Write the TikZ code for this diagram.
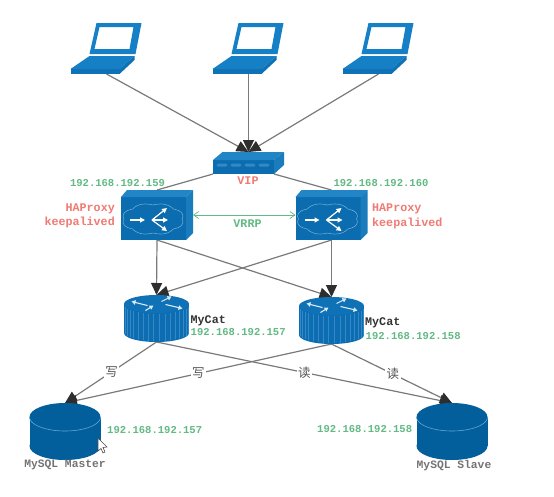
\documentclass[tikz,border=0pt]{standalone}
\usepackage{fontspec}
\setmonofont{Liberation Mono}
\newfontfamily\cjkfont{Noto Sans CJK SC}
\usetikzlibrary{arrows.meta}
\definecolor{lapblue}{HTML}{1580C6}
\definecolor{lapdark}{HTML}{0F72B4}
\definecolor{boxblue}{HTML}{0B6DB0}
\definecolor{boxtop}{HTML}{2185C6}
\definecolor{boxside}{HTML}{1A7CBC}
\definecolor{rtop}{HTML}{0F71B6}
\definecolor{rbody}{HTML}{0C6DB2}
\definecolor{rrib}{HTML}{3488C4}
\definecolor{dbblue}{HTML}{035F9C}
\definecolor{dbline}{HTML}{5FA6D4}
\definecolor{linegray}{HTML}{7A7A7A}
\definecolor{headc}{HTML}{2E2E2E}
\definecolor{ipgreen}{HTML}{62BA84}
\definecolor{redtxt}{HTML}{F07A74}
\definecolor{greytxt}{HTML}{555555}
\tikzset{
  box/.style={inner sep=0pt,outer sep=0pt,minimum width=#1},
  conn/.style={draw=linegray,line width=1.2pt},
  headed/.style={conn,-{Triangle[length=12pt,width=11pt,color=headc]}},
  vrrp/.style={draw=ipgreen,line width=.7pt,{Straight Barb[length=5pt,width=7pt]}-{Straight Barb[length=5pt,width=7pt]}},
  iptxt/.style={font=\ttfamily\bfseries\fontsize{10.55}{12}\selectfont,text=ipgreen,inner sep=0pt},
  redlab/.style={font=\ttfamily\bfseries\fontsize{11.7}{13}\selectfont,text=redtxt,inner sep=0pt},
  greenlab/.style={font=\ttfamily\bfseries\fontsize{11.7}{13}\selectfont,text=ipgreen,inner sep=0pt},
  darklab/.style={font=\ttfamily\bfseries\fontsize{11.7}{13}\selectfont,text=black!80,inner sep=0pt},
  dblab/.style={font=\ttfamily\bfseries\fontsize{11.3}{13}\selectfont,text=black!55,inner sep=0pt},
  zhlab/.style={font=\cjkfont\fontsize{12.5}{13}\selectfont,text=greytxt,fill=white,inner sep=1.5pt},
  laptopicon/.pic={
    \fill[lapblue,even odd rule] (-10,-51)--(35,-51)--(29,-20)--(-17,-20)--cycle
      (-7,-47)--(27,-47)--(23,-25)--(-12,-25)--cycle;
    \fill[lapblue] (-17,-18)--(28,-18)--(13,-5)--(-36,-5)--cycle;
    \fill[lapdark] (-36,-5)--(13,-5)--(13,0)--(-36,0)--cycle;
    \fill[lapdark] (13,-5)--(28,-18)--(28,-14)--(13,0)--cycle;
  },
  hubicon/.pic={
    \fill[boxblue] (-35.5,-3) rectangle (25.5,11);
    \fill[boxtop] (-35.5,-3)--(-26,-11)--(35.5,-11)--(25.5,-3)--cycle;
    \fill[boxside] (25.5,-3)--(35.5,-11)--(35.5,2)--(25.5,11)--cycle;
    \foreach \x in {-32,-18,-4,10}
      \fill[rrib,rounded corners=1.5pt] (\x,.5) rectangle (\x+11,3.5);
  },
  balancer/.pic={
    \fill[boxblue] (-36,-18) rectangle (29,25);
    \fill[boxtop] (-36,-18)--(-30,-25)--(36,-25)--(29,-18)--cycle;
    \fill[boxside] (29,-18)--(36,-25)--(36,18)--(29,25)--cycle;
    \draw[white!45!boxblue,line width=.5pt] plot[smooth cycle,domain=0:355,samples=72]
      ({-4+29*cos(\x)*(1+.07*abs(sin(4*\x)))},{4+14*sin(\x)*(1+.13*abs(sin(4*\x)))});
    \begin{scope}[draw=white,line width=1.2pt,-{Triangle[length=5pt,width=5pt,color=white]}]
      \draw (-27,5)--(-12,5);
      \draw (-5,5)--(10,-7);
      \draw (-5,5)--(11,5);
      \draw (-5,5)--(10,16);
    \end{scope}
  },
  routericon/.pic={
    \fill[rbody] (-32.5,-14.5) rectangle (32.5,14.5);
    \fill[rbody] (0,14.5) ellipse[x radius=32.5,y radius=9];
    \foreach \a in {15,25,...,165}
      \draw[rrib,line width=.5pt] ({32.5*cos(\a)},{-14.5+9*sin(\a)+1}) -- ({32.5*cos(\a)},{14.5+9*sin(\a)-1});
    \fill[rtop] (0,-14.5) ellipse[x radius=32.5,y radius=9];
    \begin{scope}[draw=white!85!rtop,line width=1.1pt,-{Triangle[length=4pt,width=4.5pt,color=white!85!rtop]}]
      \draw (-9,-13)--(-25,-17);
      \draw (-11,-8)--(-3,-13);
      \draw (5,-17)--(15,-22);
      \draw (9,-14)--(26,-10);
    \end{scope}
  },
  dbicon/.pic={
    \fill[dbblue] (-35.5,-14.5) rectangle (35.5,14.5);
    \fill[dbblue] (0,14.5) ellipse[x radius=35.5,y radius=14];
    \fill[dbblue] (0,-14.5) ellipse[x radius=35.5,y radius=14];
    \draw[dbline,line width=.6pt] plot[smooth,domain=0:180,samples=30]
      ({35.5*cos(\x)},{-14.5+14*sin(\x)});
  },
}
\begin{document}
\begin{tikzpicture}[x=1pt,y=-1pt]
\useasboundingbox[fill=white] (0,0) rectangle (554,496);
% devices (outlines)
\node[box=71pt,minimum height=51pt] (lapA) at (106.5,48.5) {};
\node[box=71pt,minimum height=51pt] (lapB) at (248.5,48.5) {};
\node[box=71pt,minimum height=51pt] (lapC) at (378.5,48.5) {};
\node[box=71pt,minimum height=22pt] (hub) at (248.5,163) {};
\node[box=72pt,minimum height=50pt] (haL) at (157,215) {};
\node[box=72pt,minimum height=50pt] (haR) at (331.5,215) {};
\node[box=65pt,minimum height=47pt] (rtA) at (156.5,318.5) {};
\node[box=65pt,minimum height=47pt] (rtB) at (331.5,320.5) {};
\node[box=71pt,minimum height=57pt] (dbM) at (65,431.5) {};
\node[box=71pt,minimum height=57pt] (dbS) at (452,431.5) {};
% connectors
\draw[headed] (lapA.south) -- (hub.north);
\draw[headed] (lapB.south) -- (hub.north);
\draw[headed] (lapC.south) -- (hub.north);
\draw[conn] (hub.south west) -- (haL.north);
\draw[conn] ([xshift=-10pt]hub.south east) -- (haR.north);
\draw[vrrp] (haL.east) -- (haR.west);
\draw[headed] (haL.south) -- (rtA.north);
\draw[headed] (haL.south) -- (rtB.north);
\draw[headed] (haR.south) -- (rtB.north);
\draw[headed] (haR.south) -- (rtA.north);
\draw[headed] (rtA.south) -- node[zhlab,pos=.49] (wA) {写} (dbM.north);
\draw[headed] (rtB.south) -- node[zhlab,pos=.5] (wB) {写} (dbM.north);
\draw[headed] (rtA.south) -- node[zhlab,pos=.5] (rA) {读} (dbS.north);
\draw[headed] (rtB.south) -- node[zhlab,pos=.51] (rB) {读} (dbS.north);
% icons
\pic at (lapA.south) {laptopicon};
\pic at (lapB.south) {laptopicon};
\pic at (lapC.south) {laptopicon};
\pic at (hub.center) {hubicon};
\pic at (haL.center) {balancer};
\pic at (haR.center) {balancer};
\pic at (rtA.center) {routericon};
\pic at (rtB.center) {routericon};
\pic at (dbM.center) {dbicon};
\pic at (dbS.center) {dbicon};
% texts
\node[iptxt] (ipL) at (117.5,183) {192.168.192.159};
\node[iptxt] (ipR) at (381,183) {192.168.192.160};
\node[redlab] (vip) at (248,181) {VIP};
\node[greenlab] (vr) at (247.5,224) {VRRP};
\node[redlab,anchor=east] (hL1) at (115,209) {HAProxy};
\node[redlab,anchor=east] (hL2) at (115,222) {keepalived};
\node[redlab,anchor=west] (hR1) at (372,209) {HAProxy};
\node[redlab,anchor=west] (hR2) at (372,223) {keepalived};
\node[darklab,anchor=west] (mcA) at (190.5,321) {MyCat};
\node[iptxt,anchor=west] (ipA) at (190.5,332) {192.168.192.157};
\node[darklab,anchor=west] (mcB) at (365,323) {MyCat};
\node[iptxt,anchor=west] (ipB) at (365.5,336) {192.168.192.158};
\node[iptxt,anchor=west] (ipM) at (107,430) {192.168.192.157};
\node[iptxt,anchor=west] (ipS) at (317,429) {192.168.192.158};
\node[dblab] (nmM) at (65,465) {MySQL Master};
\node[dblab] (nmS) at (454,466) {MySQL Slave};
% pointer
\fill[white,draw=black!70,line width=.6pt] (98,438)--(98,451)--(101,448.5)--(103,453)--(105,452)--(103,447.5)--(107,447)--cycle;
\end{tikzpicture}
\end{document}
